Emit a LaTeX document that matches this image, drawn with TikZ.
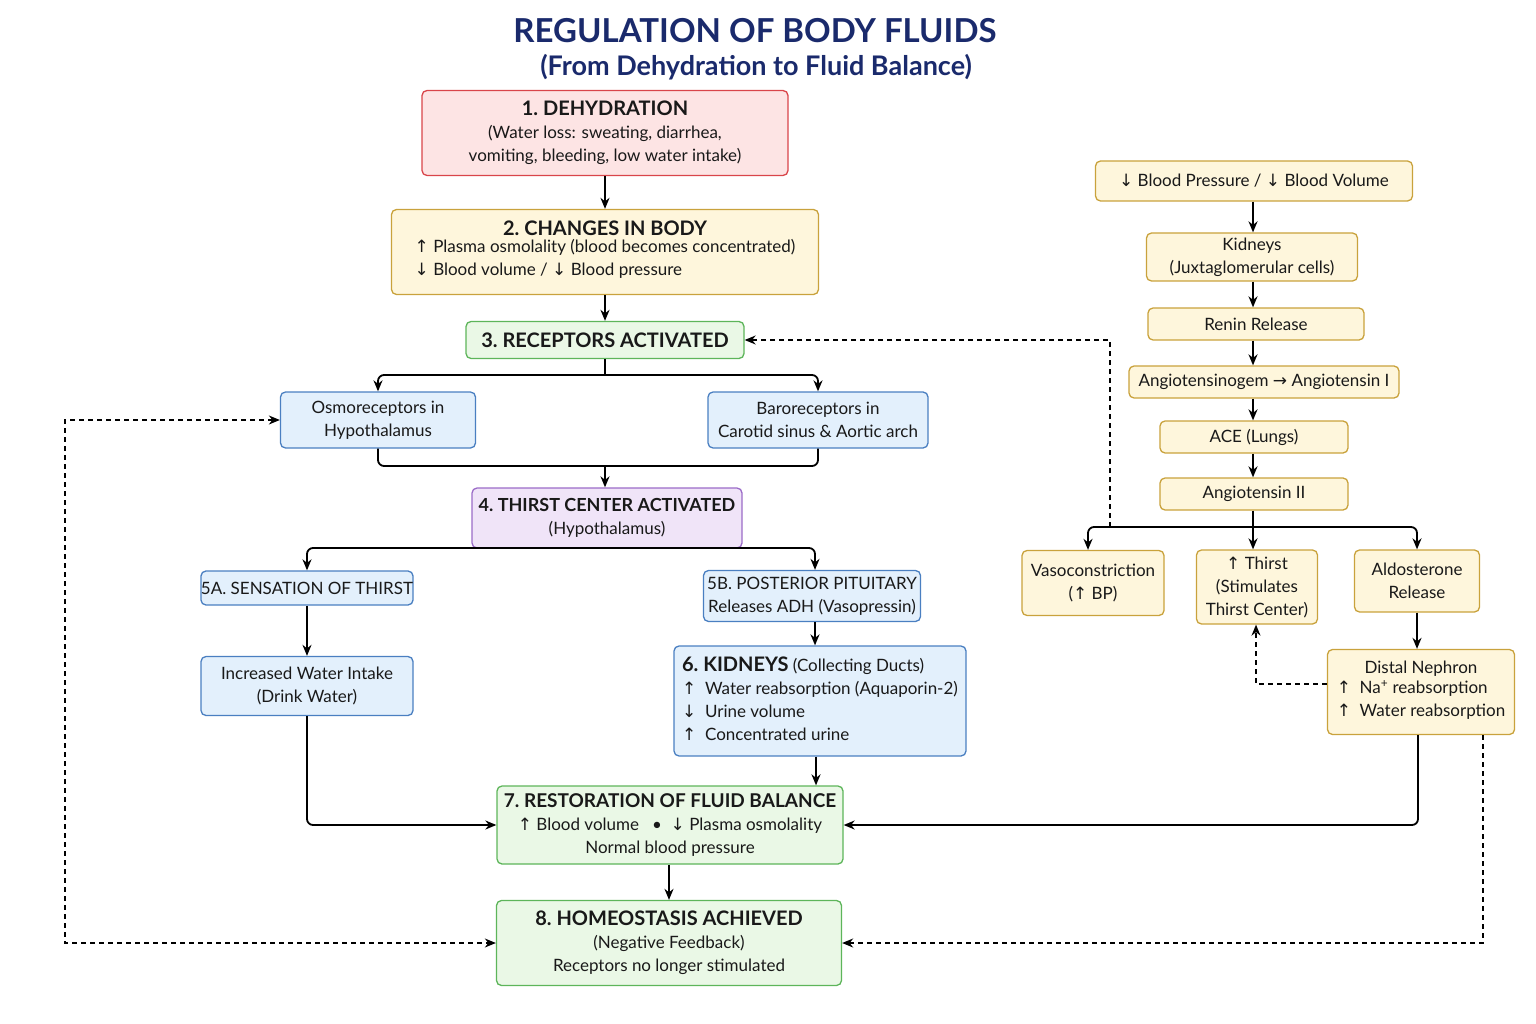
\documentclass[tikz,border=0pt]{standalone}
\usepackage{fontspec}
\setmainfont{Lato}
\newfontfamily\arr{DejaVu Sans}
\usetikzlibrary{arrows.meta}
\newcommand{\ua}{{\arr ↑}}
\newcommand{\da}{{\arr ↓}}
\newcommand{\ra}{{\arr →}}
\definecolor{tc}{HTML}{1A2A6C}
\definecolor{rf}{HTML}{FDE4E4}\definecolor{rd}{HTML}{D9454A}
\definecolor{yf}{HTML}{FEF6DC}\definecolor{yd}{HTML}{C9A23C}
\definecolor{gf}{HTML}{EAF8E6}\definecolor{gd}{HTML}{5DB55A}
\definecolor{bf}{HTML}{E3F0FC}\definecolor{bd}{HTML}{4A7FC1}
\definecolor{pf}{HTML}{F0E4F8}\definecolor{pd}{HTML}{9B6BC8}
\tikzset{
 bx/.style={draw,line width=1.3pt,rounded corners=5pt,align=center,inner sep=0pt,font=\fontsize{17}{23}\selectfont,text=black!90},
 red/.style={bx,fill=rf,draw=rd},
 yel/.style={bx,fill=yf,draw=yd},
 grn/.style={bx,fill=gf,draw=gd},
 blu/.style={bx,fill=bf,draw=bd},
 pur/.style={bx,fill=pf,draw=pd},
 sz/.style 2 args={minimum width=#1pt,minimum height=#2pt},
 ar/.style={line width=1.8pt,-{Stealth[length=11pt,width=9pt]},rounded corners=6pt},
 ln/.style={line width=1.8pt,rounded corners=6pt},
 da/.style={line width=1.4pt,dashed,dash pattern=on 5pt off 4pt,-{Stealth[length=11pt,width=9pt]}},
 dab/.style={da,{Stealth[length=11pt,width=9pt]}-{Stealth[length=11pt,width=9pt]}},
 hd/.style={font=\fontsize{20}{24}\selectfont\bfseries}
}
\begin{document}
\begin{tikzpicture}[x=1pt,y=-1pt]
\useasboundingbox (0,0) rectangle (1536,1024);
\node[text=tc,font=\fontsize{33}{36}\selectfont\bfseries] (t1) at (755,31) {REGULATION OF BODY FLUIDS};
\node[text=tc,font=\fontsize{27}{30}\selectfont\bfseries] (t2) at (756,67) {(From Dehydration to Fluid Balance)};

\node[red,sz={366}{85}] (n1) at (605,133) {{\fontsize{20}{24}\selectfont\bfseries 1.\ DEHYDRATION}\\(Water loss: sweating, diarrhea,\\vomiting, bleeding, low water intake)};
\node[yel,sz={427}{85}] (n2) at (605,252) {{\fontsize{20}{24}\selectfont\bfseries 2.\ CHANGES IN BODY}\\\begin{tabular}{@{}l@{}}\ua\ Plasma osmolality (blood becomes concentrated)\\\da\ Blood volume / \da\ Blood pressure\end{tabular}};
\node[grn,sz={278}{37},hd] (n3) at (605,340) {3.\ RECEPTORS ACTIVATED};
\node[blu,sz={195}{56}] (osm) at (378,420) {Osmoreceptors in\\Hypothalamus};
\node[blu,sz={220}{56}] (bar) at (818,420) {Baroreceptors in\\Carotid sinus \& Aortic arch};
\node[pur,sz={270}{60}] (n4) at (607,518) {{\fontsize{18}{22}\selectfont\bfseries 4.\ THIRST CENTER ACTIVATED}\\(Hypothalamus)};
\node[blu,sz={212}{34}] (n5a) at (307,588) {5A.\ SENSATION OF THIRST};
\node[blu,sz={212}{59}] (wi) at (307,686) {Increased Water Intake\\(Drink Water)};
\node[blu,sz={217}{51}] (n5b) at (812,596) {5B.\ POSTERIOR PITUITARY\\Releases ADH (Vasopressin)};
\node[blu,sz={292}{110}] (n6) at (820,701) {\begin{tabular}{@{}l@{}}{\fontsize{20}{24}\selectfont\bfseries 6.\ KIDNEYS} (Collecting Ducts)\\\ua\ \ Water reabsorption (Aquaporin-2)\\\da\ \ Urine volume\\\ua\ \ Concentrated urine\end{tabular}};
\node[grn,sz={346}{78}] (n7) at (670,825) {{\fontsize{19}{23}\selectfont\bfseries 7.\ RESTORATION OF FLUID BALANCE}\\\ua\ Blood volume \ \ \textbullet\ \ \da\ Plasma osmolality\\Normal blood pressure};
\node[grn,sz={345}{85}] (n8) at (669,943) {{\fontsize{20}{24}\selectfont\bfseries 8.\ HOMEOSTASIS ACHIEVED}\\(Negative Feedback)\\Receptors no longer stimulated};

\node[yel,sz={317}{40}] (bp) at (1254,181) {\da\ Blood Pressure / \da\ Blood Volume};
\node[yel,sz={211}{48}] (kid) at (1252,257) {Kidneys\\(Juxtaglomerular cells)};
\node[yel,sz={216}{32}] (ren) at (1256,324) {Renin Release};
\node[yel,sz={270}{32}] (ang) at (1264,382) {Angiotensinogem \ra\ Angiotensin I};
\node[yel,sz={188}{32}] (ace) at (1254,437) {ACE (Lungs)};
\node[yel,sz={188}{32}] (an2) at (1254,494) {Angiotensin II};
\node[yel,sz={142}{65}] (vas) at (1093,583) {Vasoconstriction\\(\ua\ BP)};
\node[yel,sz={121}{74}] (th2) at (1257,587) {\ua\ Thirst\\(Stimulates\\Thirst Center)};
\node[yel,sz={125}{62}] (ald) at (1417,581) {Aldosterone\\Release};
\node[yel,sz={187}{85}] (dis) at (1421,692) {Distal Nephron\\\begin{tabular}{@{}l@{}}\ua\ \ Na\textsuperscript{+} reabsorption\\\ua\ \ Water reabsorption\end{tabular}};

\coordinate (c1) at (605,375);
\coordinate (c2) at (605,466);
\coordinate (c3) at (607,548);
\coordinate (c4) at (1253,527);

\draw[ar] (n1) -- (n2);
\draw[ar] (n2) -- (n3);
\draw[ln] (n3.south) -- (c1);
\draw[ar] (c1) -| (osm.north);
\draw[ar] (c1) -| (bar.north);
\draw[ln] (osm.south) |- (c2);
\draw[ln] (bar.south) |- (c2);
\draw[ar] (c2) -- (n4.north -| c2);
\draw[ar] (c3) -| (n5a.north);
\draw[ar] (c3) -| (n5b.north -| 815,0);
\draw[ar] (n5a) -- (wi);
\draw[ar] (n5b.south -| 815,0) -- (n6.north -| 815,0);
\draw[ar] (n6.south -| 816,0) -- (n7.north -| 816,0);
\draw[ar] (wi.south) |- (n7.west);
\draw[ar] (n7.south -| 669,0) -- (n8.north -| 669,0);
\draw[dab] (osm.west) -| (65,700) |- (n8.west);

\draw[ar] (bp.south -| 1253,0) -- (kid.north -| 1253,0);
\draw[ar] (kid.south -| 1253,0) -- (ren.north -| 1253,0);
\draw[ar] (ren.south -| 1253,0) -- (ang.north -| 1253,0);
\draw[ar] (ang.south -| 1253,0) -- (ace.north -| 1253,0);
\draw[ar] (ace.south -| 1253,0) -- (an2.north -| 1253,0);
\draw[ln] (an2.south -| c4) -- (c4);
\draw[ar] (c4) -| (vas.north -| 1088,0);
\draw[ar] (c4) -- (th2.north -| c4);
\draw[ar] (c4) -| (ald.north);
\draw[da] (1110,527) |- (n3.east);
\draw[ar] (ald) -- (dis.north -| ald);
\draw[da] (dis.west |- 0,684) -| (th2.south -| 1256,0);
\draw[ar] (dis.south -| 1418,0) |- (n7.east);
\draw[da] (dis.south -| 1483,0) |- (n8.east);
\end{tikzpicture}
\end{document}
